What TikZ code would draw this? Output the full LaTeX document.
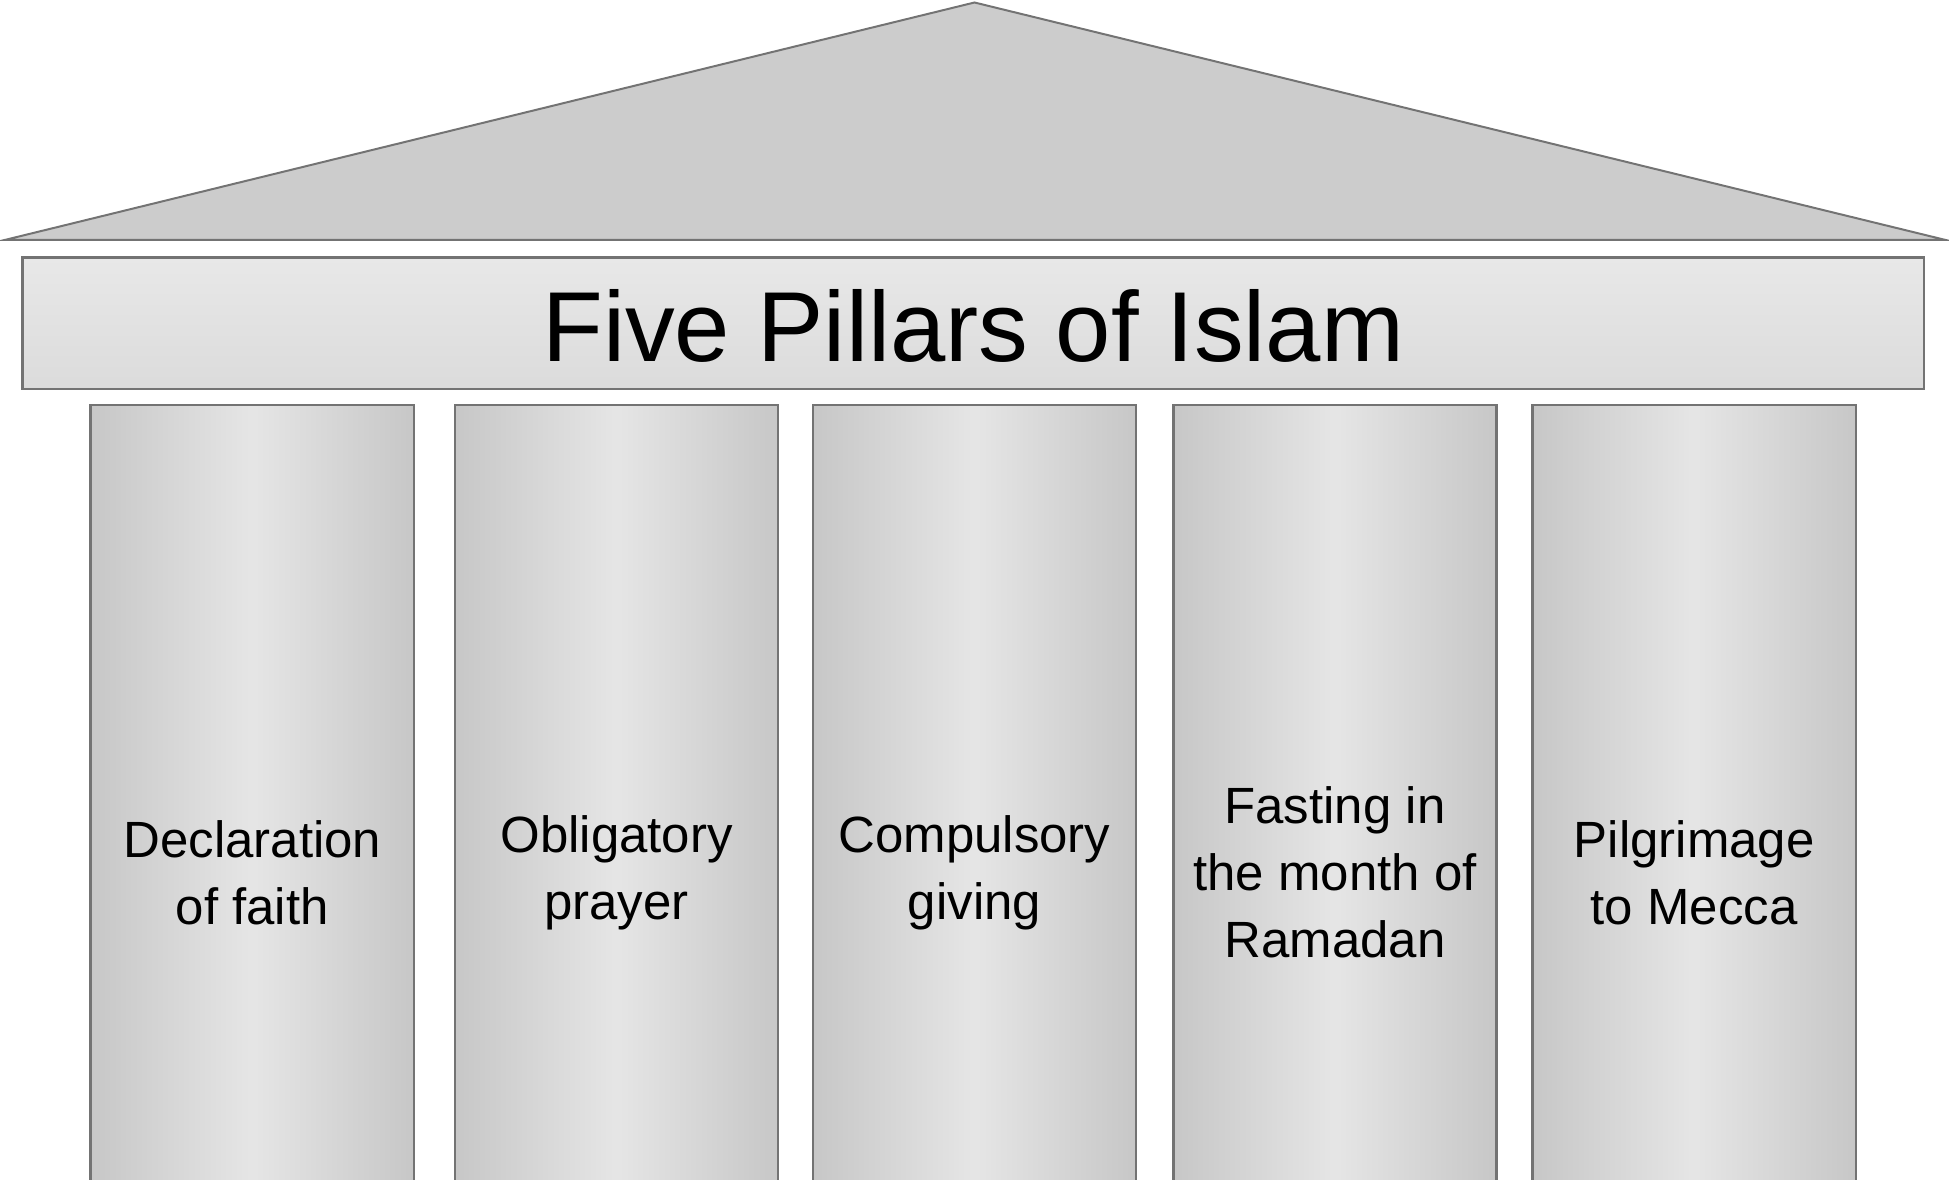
\documentclass[tikz,border=0pt]{standalone}
\usepackage{fontspec}
\setmainfont{Liberation Sans}
\begin{document}
\begin{tikzpicture}[x=0.5pt,y=-0.5pt,
  pillar/.style={draw=gray!90!black,line width=1pt,left color=black!22,right color=black!22,middle color=black!10},
  ptext/.style={align=center,font=\fontsize{20.5}{27}\selectfont}]
\useasboundingbox (0,0) rectangle (1568,949);
\draw[fill=black!20,draw=gray!90!black,line width=0.8pt] (4,193) -- (784,2) -- (1565,193) -- cycle;
\node[draw=gray!90!black,line width=1pt,top color=black!9,bottom color=black!14,minimum width=765pt,minimum height=53pt,inner sep=0pt] (beam) at (783,260) {};
\node[font=\fontsize{40}{48}\selectfont] (title) at (783,262) {Five Pillars of Islam};
\foreach \x/\t [count=\i] in {203/{Declaration\\of faith},496/{Obligatory\\prayer},784/{Compulsory\\giving},1074/{Fasting in\\the month of\\Ramadan},1363/{Pilgrimage\\to Mecca}}{
  \draw[pillar] (\x-130,326) rectangle (\x+130,960);
  \node[ptext] (p\i) at (\x,702) {\t};
}
\end{tikzpicture}
\end{document}
